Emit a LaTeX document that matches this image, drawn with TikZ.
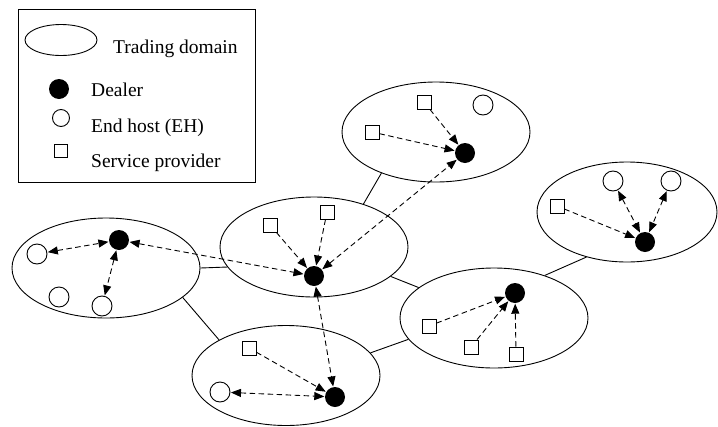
\documentclass[tikz,border=0pt]{standalone}
\usepackage{fontspec}
\setmainfont{Liberation Serif}
\usetikzlibrary{shapes.geometric,arrows.meta}
\tikzset{
 dom/.style={ellipse, draw, minimum width=188pt, minimum height=100pt, inner sep=0pt, line width=0.9pt},
 dealer/.style={circle, fill=black, minimum size=20pt, inner sep=0pt},
 host/.style={circle, draw, fill=white, minimum size=20pt, inner sep=0pt, line width=0.9pt},
 sp/.style={rectangle, draw, fill=white, minimum size=14pt, inner sep=0pt, line width=0.9pt},
 link/.style={line width=0.9pt},
 flow/.style={dash pattern=on 5.5pt off 3.5pt, line width=0.9pt, -{Triangle[length=10pt,width=8pt]}, shorten >=0.5pt},
 flowtwo/.style={dash pattern=on 5.5pt off 3.5pt, line width=0.9pt, {Triangle[length=10pt,width=8pt]}-{Triangle[length=10pt,width=8pt]}, shorten >=0.5pt, shorten <=0.5pt},
 lgtext/.style={anchor=base west, inner sep=0pt, font=\rmfamily\fontsize{19.5}{23}\selectfont}
}
\begin{document}
\begin{tikzpicture}[x=1pt,y=-1pt]
\useasboundingbox (0,0) rectangle (718,426);

% legend
\node[draw, line width=0.9pt, minimum width=237pt, minimum height=173pt, inner sep=0pt] (lgbox) at (136.5,95.5) {};
\node[ellipse, draw, line width=0.9pt, minimum width=72pt, minimum height=31pt, inner sep=0pt] (lgdom) at (61,40) {};
\node[dealer] (lgdeal) at (59,89) {};
\node[host, minimum size=17pt] (lghost) at (61,118) {};
\node[sp, minimum size=13pt] (lgsp) at (61,151) {};
\node[lgtext] (lgt1) at (113,53) {Trading domain};
\node[lgtext] (lgt2) at (91,96) {Dealer};
\node[lgtext] (lgt3) at (91,132) {End host (EH)};
\node[lgtext] (lgt4) at (91,167) {Service provider};

% trading domains
\node[dom] (T) at (436,132) {};
\node[dom] (L) at (106,268) {};
\node[dom] (C) at (314,247) {};
\node[dom] (B) at (286,375.5) {};
\node[dom] (M) at (494,318) {};
\node[dom, minimum width=180pt] (R) at (627,212) {};

% links between domains
\draw[link] (T.217) -- (C.41);
\draw[link] (L.0) -- (C.193);
\draw[link] (L.339) -- (B.152);
\draw[link] (C.339) -- (M.158);
\draw[link] (B.15) -- (M.194);
\draw[link] (M.40) -- (R.228);

% top domain
\node[sp] (t1) at (372,132) {};
\node[sp] (t2) at (424,102) {};
\node[host] (th) at (483,105) {};
\node[dealer] (dT) at (465,153) {};

% left domain
\node[dealer] (dL) at (119,240) {};
\node[host] (l1) at (37,254) {};
\node[host] (l2) at (59,297) {};
\node[host] (l3) at (102,306) {};

% centre domain
\node[sp] (c1) at (270,225) {};
\node[sp] (c2) at (327,212) {};
\node[dealer] (dC) at (314,276) {};

% bottom domain
\node[sp] (b1) at (249,348) {};
\node[host] (b2) at (220,392) {};
\node[dealer] (dB) at (335,397) {};

% lower right domain
\node[dealer] (dM) at (515,293) {};
\node[sp] (m1) at (429,326) {};
\node[sp] (m2) at (471,347) {};
\node[sp] (m3) at (516,354) {};

% right domain
\node[sp] (r1) at (557,206) {};
\node[host] (r2) at (613,181) {};
\node[host] (r3) at (671,181) {};
\node[dealer] (dR) at (645,242) {};

% flows
\draw[flow] (t1) -- (dT);
\draw[flow] (t2) -- (dT);
\draw[flowtwo] (dC) -- (dT);
\draw[flow] (c1) -- (dC);
\draw[flow] (c2) -- (dC);
\draw[flowtwo] (dL) -- (dC);
\draw[flowtwo] (dC) -- (dB);
\draw[flowtwo] (l1) -- (dL);
\draw[flowtwo] (dL) -- (l3);
\draw[flow] (b1) -- (dB);
\draw[flowtwo] (b2) -- (dB);
\draw[flow] (m1) -- (dM);
\draw[flow] (m2) -- (dM);
\draw[flow] (m3) -- (dM);
\draw[flow] (r1) -- (dR);
\draw[flowtwo] (r2) -- (dR);
\draw[flowtwo] (r3) -- (dR);
\end{tikzpicture}
\end{document}
